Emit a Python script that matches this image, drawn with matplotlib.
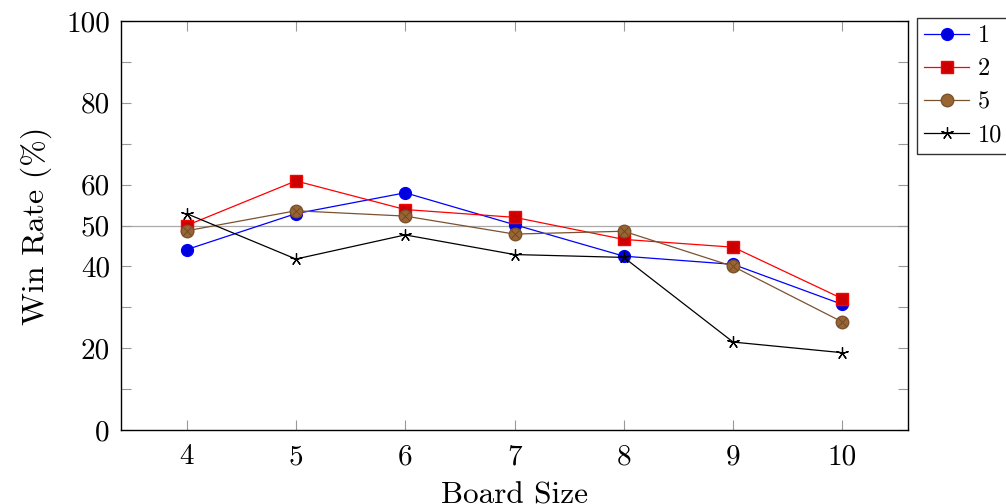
import matplotlib
matplotlib.use("Agg")
import matplotlib.pyplot as plt

plt.rcParams['font.family'] = ['cmr10', 'DejaVu Serif']
plt.rcParams['mathtext.fontset'] = 'cm'
plt.rcParams['axes.unicode_minus'] = False

board_sizes = [4, 5, 6, 7, 8, 9, 10]
win_1 = [44.1, 52.9, 58.0, 50.2, 42.5, 40.5, 30.7]
win_2 = [50.0, 60.9, 53.9, 52.0, 46.6, 44.7, 32.1]
win_5 = [48.7, 53.6, 52.3, 47.9, 48.6, 40.0, 26.4]
win_10 = [52.9, 41.8, 47.7, 42.9, 42.2, 21.5, 18.9]
series_labels = ['1', '2', '5', '10']
y_major = [0, 20, 40, 50, 60, 80, 100]
y_minor = [10, 30, 70, 90]
reference_level = 50

fig = plt.figure(figsize=(10.06, 5.04), dpi=100)
ax = fig.add_axes([121/1006, 1-430/504, (908-121)/1006, (430-21)/504])

ax.axhline(reference_level, color='#aaaaaa', lw=0.9, zorder=1)

lw = 0.9
ax.plot(board_sizes, win_1, color='blue', lw=lw, marker='o', ms=8.5,
        mfc='#0000dd', mec='blue', label=series_labels[0], zorder=3)
ax.plot(board_sizes, win_2, color='red', lw=lw, marker='s', ms=8,
        mfc='#cc0000', mec='red', label=series_labels[1], zorder=3)
ax.plot(board_sizes, win_5, color='#7a5230', lw=lw, marker='o', ms=9,
        mfc='#996633', mec='#7a5230', label=series_labels[2], zorder=3)
ax.plot(board_sizes, win_5, ls='none', marker='x', ms=5.5, mew=0.6,
        color='#6b4524', zorder=4)
ax.plot(board_sizes, win_10, color='black', lw=lw, marker=(5, 2, 0), ms=9,
        mew=0.9, label=series_labels[3], zorder=3)

ax.set_xlim(3.4, 10.6)
ax.set_ylim(0, 100)
ax.set_xticks(board_sizes)
ax.set_xticklabels([str(b) for b in board_sizes])
ax.set_yticks(y_major)
ax.set_yticks(y_minor, minor=True)
ax.tick_params(axis='both', which='both', direction='in', top=True, right=True,
               length=7, color='#999999', width=0.8, labelsize=21, pad=10)
ax.tick_params(axis='y', pad=8)
for s in ax.spines.values():
    s.set_linewidth(1.0)

ax.set_xlabel('Board Size', fontsize=22.5, labelpad=8)
ax.set_ylabel('Win Rate (%)', fontsize=23, labelpad=10)

handles, labels = ax.get_legend_handles_labels()
leg = fig.legend(handles, labels, loc='upper left',
                 bbox_to_anchor=(917/1006, 1-18/504), fontsize=17.5,
                 frameon=True, fancybox=False, edgecolor='black',
                 borderpad=0.3, labelspacing=0.45, handlelength=1.85,
                 handletextpad=0.35, borderaxespad=0)
leg.get_frame().set_linewidth(1.0)

fig.savefig('out.png', dpi=100)
